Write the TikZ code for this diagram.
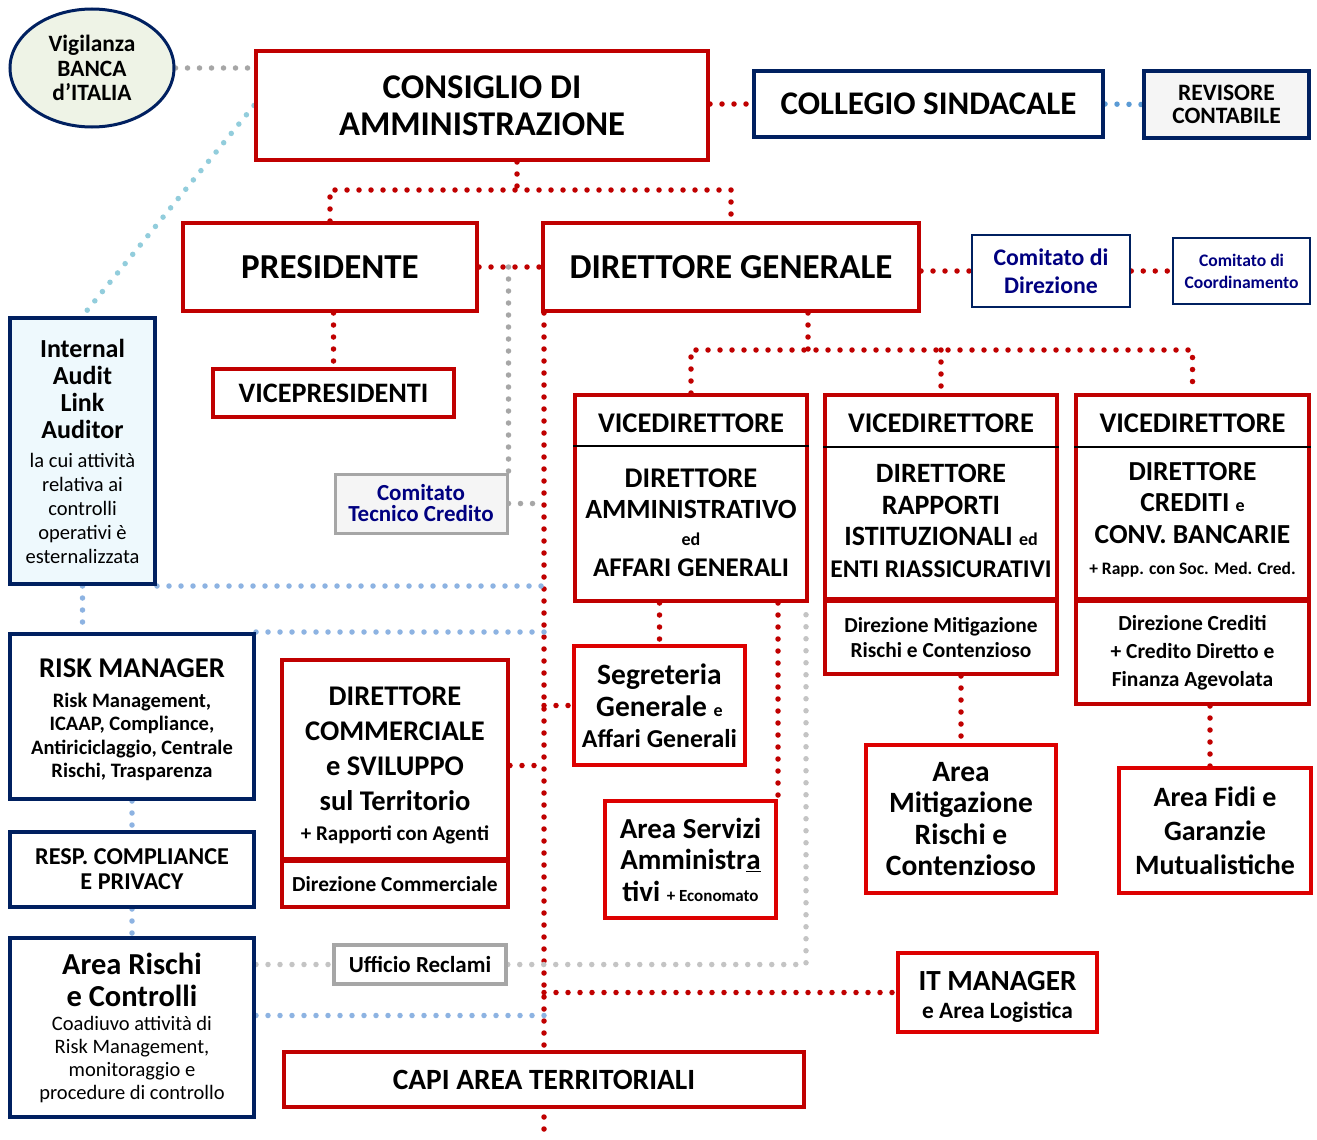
\documentclass[tikz,border=0pt]{standalone}
\usepackage{fontspec}
\setmainfont{Carlito}
\usetikzlibrary{shapes.geometric,backgrounds}

\definecolor{bred}{HTML}{C00000}
\definecolor{lred}{HTML}{DD0000}
\definecolor{bnavy}{HTML}{002060}
\definecolor{cnavy}{HTML}{000080}
\definecolor{dgray}{HTML}{A6A6A6}
\definecolor{lgray}{HTML}{C4C4C4}
\definecolor{dblue}{HTML}{8DB3E2}
\definecolor{tblue}{HTML}{92CDDC}
\definecolor{mblue}{HTML}{5B9BD5}
\definecolor{vigfill}{HTML}{EEF3E6}
\definecolor{iafill}{HTML}{EEF9FD}
\definecolor{boxgray}{HTML}{F5F5F5}

\newcommand{\fsz}[2]{\fontsize{#1}{#2}\selectfont}

\begin{document}
\begin{tikzpicture}[x=1pt,y=-1pt,
    every node/.style={align=center, inner sep=0pt},
    redbox/.style={draw=bred, line width=4pt, fill=white},
    lredbox/.style={draw=lred, line width=4pt, fill=white},
    navybox/.style={draw=bnavy, line width=4pt, fill=white},
    combox/.style={draw=bnavy, line width=2.5pt, fill=white, text=cnavy},
    graybox/.style={draw=dgray, line width=3.5pt, fill=white},
    dots/.style={line width=5.5pt, line cap=round, dash pattern=on 0pt off 12pt},
    reddots/.style={dots, draw=bred},
    bluedots/.style={dots, draw=dblue},
    graydots/.style={dots, draw=lgray},
    headline/.style={draw=black, line width=1.6pt}]

\useasboundingbox (0,0) rectangle (1317,1140);

% top level
\node[ellipse, draw=bnavy, line width=3pt, fill=vigfill, minimum width=164, minimum height=118, font=\bfseries\fsz{23.4}{24.5}] (vig) at (92,68) {Vigilanza\\BANCA\\d\symbol{39}ITALIA};
\node[redbox, minimum width=452, minimum height=109, font=\bfseries\fsz{34.7}{37}] (cda) at (482,105.5) {CONSIGLIO DI\\AMMINISTRAZIONE};
\node[navybox, minimum width=349, minimum height=66, font=\bfseries\fsz{33}{34}] (coll) at (928.5,104) {COLLEGIO SINDACALE};
\node[navybox, fill=boxgray, minimum width=165, minimum height=67, font=\bfseries\fsz{23.5}{23}] (rev) at (1226.5,104.5) {REVISORE\\CONTABILE};

\node[redbox, minimum width=294, minimum height=88, font=\bfseries\fsz{35}{37}] (pres) at (330,267) {PRESIDENTE};
\node[redbox, minimum width=376, minimum height=88, font=\bfseries\fsz{35}{37}] (dg) at (731,267) {DIRETTORE GENERALE};
\node[combox, minimum width=158, minimum height=72, font=\bfseries\fsz{23.8}{28}] (cdd) at (1051,271) {Comitato di\\Direzione};
\node[combox, minimum width=137, minimum height=66, font=\bfseries\fsz{17.6}{22}] (cdc) at (1241.5,271) {Comitato di\\Coordinamento};

\node[redbox, minimum width=241, minimum height=48, font=\bfseries\fsz{28.2}{28}] (vp) at (333.5,393) {VICEPRESIDENTI};

% controlli
\node[navybox, fill=iafill, minimum width=145, minimum height=266] (ia) at (82.5,451) {};
\node[font=\bfseries\fsz{26}{27}] (iat) at (82.5,389) {Internal\\Audit\\Link\\Auditor};
\node[font=\fsz{20.5}{24}] (iad) at (82.5,508) {la cui attività\\relativa ai\\controlli\\operativi è\\esternalizzata};
\node[graybox, line width=3pt, fill=boxgray, text=cnavy, minimum width=172, minimum height=59, font=\bfseries\fsz{23}{21}] (ctc) at (421,503.5) {Comitato\\Tecnico Credito};

% vicedirettori
\node[redbox, minimum width=232, minimum height=206] (vdA) at (691,498) {};
\node[font=\bfseries\fsz{28.5}{28}] (vdAh) at (691,423) {VICEDIRETTORE};
\node[font=\bfseries\fsz{28.5}{31}] (vdAb) at (691,523) {DIRETTORE\\{\fsz{27.8}{28}AMMINISTRATIVO}\\[-4pt]{\fsz{18}{20}ed}\\{\fsz{27}{28}AFFARI GENERALI}};

\node[redbox, minimum width=232, minimum height=204] (vdB) at (941,497) {};
\node[font=\bfseries\fsz{28.5}{28}] (vdBh) at (941,423) {VICEDIRETTORE};
\node[font=\bfseries\fsz{28}{31.5}] (vdBb) at (941,521) {DIRETTORE\\RAPPORTI\\ISTITUZIONALI {\fsz{18}{20}ed}\\{\fsz{25.5}{26}ENTI RIASSICURATIVI}};
\node[redbox, minimum width=232, minimum height=73, font=\bfseries\fsz{21.4}{25}] (dmr) at (941,637.5) {Direzione Mitigazione\\Rischi e Contenzioso};

\node[redbox, minimum width=233, minimum height=204] (vdC) at (1192.5,497) {};
\node[font=\bfseries\fsz{28.5}{28}] (vdCh) at (1192.5,423) {VICEDIRETTORE};
\node[font=\bfseries\fsz{27.5}{31.5}] (vdCb) at (1192.5,520) {DIRETTORE\\CREDITI {\fsz{18}{20}e}\\CONV. BANCARIE\\{\fsz{17.5}{20}+ Rapp. con Soc. Med. Cred.}};
\node[redbox, minimum width=233, minimum height=103, font=\bfseries\fsz{21.5}{28}] (dcr) at (1192.5,652.5) {Direzione Crediti\\+ Credito Diretto e\\Finanza Agevolata};

\draw[headline] ([yshift=-53]vdA.north west) -- ([yshift=-53]vdA.north east);
\draw[headline] ([yshift=-54]vdB.north west) -- ([yshift=-54]vdB.north east);
\draw[headline] ([yshift=-54]vdC.north west) -- ([yshift=-54]vdC.north east);

% rischi
\node[navybox, minimum width=244, minimum height=165] (rm) at (132,716.5) {};
\node[font=\bfseries\fsz{28.6}{32}] (rmt) at (132,668) {RISK MANAGER};
\node[font=\bfseries\fsz{20.5}{23.5}] (rmd) at (132,737) {Risk Management,\\ICAAP, Compliance,\\Antiriciclaggio, Centrale\\Rischi, Trasparenza};
\node[navybox, minimum width=244, minimum height=75, font=\bfseries\fsz{24.2}{25}] (resp) at (132,869.5) {RESP. COMPLIANCE\\E PRIVACY};
\node[navybox, minimum width=244, minimum height=179] (ar) at (132,1027.5) {};
\node[font=\bfseries\fsz{30.5}{32}] (art) at (132,980) {Area Rischi\\e Controlli};
\node[font=\fsz{20.5}{23}] (ard) at (132,1060) {Coadiuvo attività di\\Risk Management,\\monitoraggio e\\procedure di controllo};

% strutture centrali
\node[redbox, minimum width=226, minimum height=199] (dc) at (395,759.5) {};
\node[font=\bfseries\fsz{28.5}{35}] (dct) at (395,749) {DIRETTORE\\COMMERCIALE\\e SVILUPPO\\sul Territorio};
\node[font=\bfseries\fsz{21}{24}] (dcs) at (395,835) {+ Rapporti con Agenti};
\node[redbox, minimum width=226, minimum height=46, font=\bfseries\fsz{21.4}{24}] (dcm) at (395,884) {Direzione Commerciale};
\node[lredbox, minimum width=171, minimum height=119, font=\bfseries\fsz{29.5}{32}] (seg) at (659.5,705.5)
  {Segreteria\\Generale {\fsz{18}{20}e}\\[-1pt]{\fsz{25.8}{28}Affari Generali}};
\node[lredbox, minimum width=171, minimum height=117, font=\bfseries\fsz{29}{31.5}] (asa) at (690.5,859.5)
  {Area Servizi\\Amministr\underline{a}\\tivi {\fsz{17}{20}+ Economato}};
\node[lredbox, minimum width=190, minimum height=148, font=\bfseries\fsz{29.5}{31.5}] (amr) at (961,819) {Area\\Mitigazione\\Rischi e\\Contenzioso};
\node[lredbox, minimum width=192, minimum height=125, font=\bfseries\fsz{28}{34}] (afg) at (1215,830.5) {Area Fidi e\\Garanzie\\Mutualistiche};

\node[graybox, minimum width=172, minimum height=39, font=\bfseries\fsz{23}{24}] (ur) at (420,964.5) {Ufficio Reclami};
\node[lredbox, minimum width=199, minimum height=79] (it) at (997.5,992.5) {};
\node[font=\bfseries\fsz{29.2}{31}] (itt) at (997.5,981) {IT MANAGER};
\node[font=\bfseries\fsz{23.4}{24}] (its) at (997.5,1012) {e Area Logistica};
\node[redbox, minimum width=520, minimum height=55, font=\bfseries\fsz{29.4}{30}] (capi) at (544,1079.5) {CAPI AREA TERRITORIALI};

% collegamenti
\begin{scope}[on background layer]
  \fill[white] (0,0) rectangle (1317,1140);
  \coordinate (jcda) at (517,190);
  \coordinate (jdg) at (808,350);
  \draw[graydots, draw=dgray] (vig.east) -- (vig.east -| cda.west);
  \draw[dots, draw=tblue] (cda.west) -- (ia.north);
  \draw[reddots] (cda.east |- coll.west) -- (coll.west);
  \draw[dots, draw=mblue] (coll.east) -- (rev.west);
  \draw[reddots] (cda.south -| jcda) -- (jcda);
  \draw[reddots] (pres.north) |- (jcda) -| (dg.north);
  \draw[reddots] (pres.east) -- (dg.west);
  \draw[reddots] (vp.north |- pres.south) -- (vp.north);
  \draw[reddots] (cdd.west -| dg.east) -- (cdd.west);
  \draw[reddots] (cdd.east) -- (cdc.west);
  \draw[graydots, draw=dgray] (ctc.north east |- pres.east) -- (ctc.north east);
  \draw[graydots, draw=dgray] (ctc.east) -- (ctc.east -| capi.north);
  % asse verticale del direttore generale
  \draw[reddots] (dg.south west -| capi.north) -- (capi.north |- 0,1140);
  \draw[reddots] (dg.south -| jdg) -- (jdg);
  \draw[reddots] (vdA.north) |- (jdg) -| (vdC.north);
  \draw[reddots] (jdg -| vdB.north) -- (vdB.north);
  \draw[reddots] (seg.north |- vdA.south) -- (seg.north);
  \draw[reddots] (asa.north east |- vdA.south) -- (asa.north east);
  \draw[reddots] (seg.west -| capi.north) -- (seg.west);
  \draw[reddots] ([yshift=-6]dc.east) -- ([yshift=-6]dc.east -| capi.north);
  \draw[reddots] (amr.north |- dmr.south) -- (amr.north);
  \draw[reddots] ([xshift=-5]afg.north |- dcr.south) -- ([xshift=-5]afg.north);
  \draw[reddots] (it.west -| capi.north) -- (it.west);
  % controlli
  \draw[bluedots] (ia.south east) -- (ia.south east -| capi.north);
  \draw[bluedots] (ia.south) -- (ia.south |- rm.north);
  \draw[bluedots] (rm.north east) -- (rm.north east -| capi.north);
  \draw[bluedots] (rm.south) -- (resp.north);
  \draw[bluedots] (resp.south) -- (ar.north);
  \draw[bluedots] ([yshift=12]ar.east) -- ([yshift=12]ar.east -| capi.north);
  \draw[graydots] (ur.west -| ar.east) -- (ur.west);
  \draw[graydots] (ur.east) -| ([xshift=-3]vdA.south east);
\end{scope}
\end{tikzpicture}
\end{document}
